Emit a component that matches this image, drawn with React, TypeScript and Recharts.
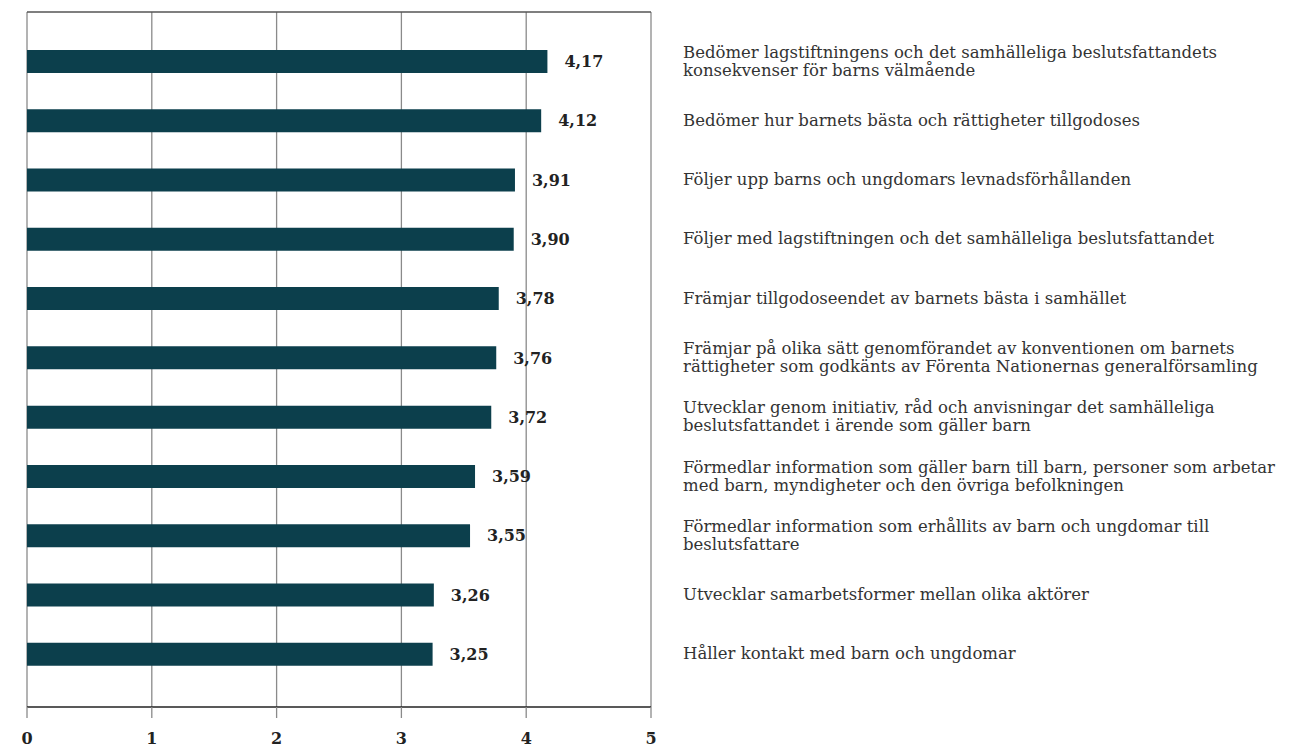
import React from "react";
import { BarChart, Bar, XAxis, YAxis, CartesianGrid, LabelList } from "recharts";

const categories: string[] = [
  "Bedömer lagstiftningens och det samhälleliga beslutsfattandets\nkonsekvenser för barns välmående",
  "Bedömer hur barnets bästa och rättigheter tillgodoses",
  "Följer upp barns och ungdomars levnadsförhållanden",
  "Följer med lagstiftningen och det samhälleliga beslutsfattandet",
  "Främjar tillgodoseendet av barnets bästa i samhället",
  "Främjar på olika sätt genomförandet av konventionen om barnets\nrättigheter som godkänts av Förenta Nationernas generalförsamling",
  "Utvecklar genom initiativ, råd och anvisningar det samhälleliga\nbeslutsfattandet i ärende som gäller barn",
  "Förmedlar information som gäller barn till barn, personer som arbetar\nmed barn, myndigheter och den övriga befolkningen",
  "Förmedlar information som erhållits av barn och ungdomar till\nbeslutsfattare",
  "Utvecklar samarbetsformer mellan olika aktörer",
  "Håller kontakt med barn och ungdomar",
];
const values: number[] = [4.17, 4.12, 3.91, 3.9, 3.78, 3.76, 3.72, 3.59, 3.55, 3.26, 3.25];
const xTicks: number[] = [0, 1, 2, 3, 4, 5];

const data = categories.map((name, i) => ({ name, value: values[i] }));

const SERIF = "'DejaVu Serif', 'Liberation Serif', serif";

const RightTick = (props: any) => {
  const { x, y, payload } = props;
  const lines: string[] = String(payload.value).split("\n");
  const lh = 18;
  const startDy = -((lines.length - 1) * lh) / 2 + 5;
  const tx = x + 26;
  return (
    <text x={tx} y={y} fill="#333" fontFamily={SERIF} fontSize={16.5} textAnchor="start">
      {lines.map((l, i) => (
        <tspan key={i} x={tx} dy={i === 0 ? startDy : lh}>
          {l}
        </tspan>
      ))}
    </text>
  );
};

const fmt = (v: any) => Number(v).toFixed(2).replace(".", ",");

export default function App() {
  return (
    <div style={{ position: "absolute", left: 0, top: 0, background: "#fff" }}>
      <BarChart
        width={1316}
        height={751}
        data={data}
        layout="vertical"
        margin={{ top: 12, right: 35, bottom: 0, left: 27 }}
      >
        <CartesianGrid
          xAxisId="main"
          yAxisId="main"
          horizontal={false}
          vertical={true}
          stroke="#8a8a8a"
          strokeWidth={1.3}
        />
        <CartesianGrid
          xAxisId="main"
          yAxisId="main"
          vertical={false}
          horizontal={true}
          horizontalCoordinatesGenerator={(p: any) => [p.offset.top]}
          stroke="#555"
          strokeWidth={1.5}
        />
        <XAxis
          xAxisId="main"
          type="number"
          domain={[0, 5]}
          ticks={xTicks}
          interval={0}
          axisLine={{ stroke: "#222", strokeWidth: 1.3 }}
          tickLine={{ stroke: "#8a8a8a", strokeWidth: 1.3 }}
          tickSize={11}
          tickMargin={15}
          height={44}
          tick={{ fill: "#222", fontFamily: SERIF, fontWeight: "bold", fontSize: 16 }}
        />
        <YAxis
          yAxisId="main"
          type="category"
          dataKey="name"
          orientation="right"
          width={630}
          axisLine={false}
          tickLine={false}
          tickMargin={0}
          padding={{ top: 20, bottom: 23 }}
          tick={<RightTick />}
          interval={0}
        />
        <Bar xAxisId="main" yAxisId="main" dataKey="value" fill="#0c3f4c" barSize={23} isAnimationActive={false}>
          <LabelList
            dataKey="value"
            position="right"
            offset={17}
            formatter={fmt}
            style={{ fill: "#222", fontFamily: SERIF, fontWeight: "bold", fontSize: 16 }}
          />
        </Bar>
      </BarChart>
    </div>
  );
}
